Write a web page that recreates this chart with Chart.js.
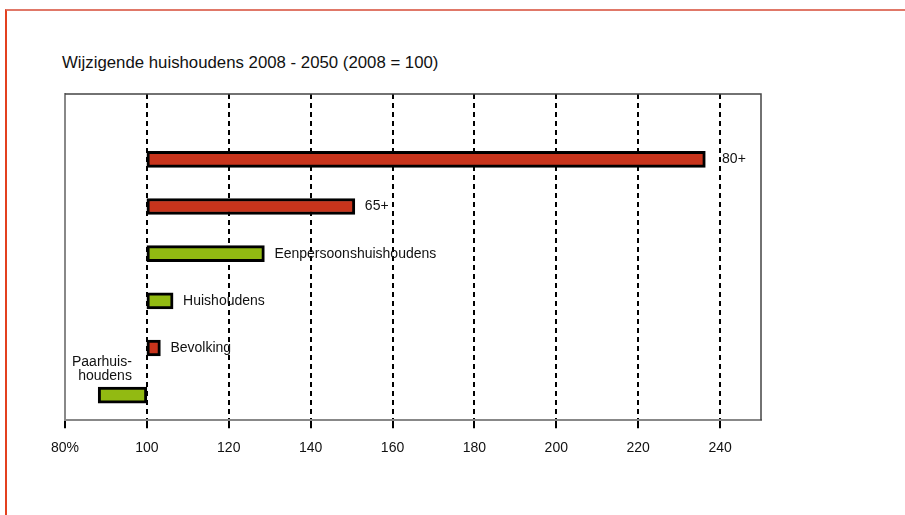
<!DOCTYPE html>
<html>
<head>
<meta charset="utf-8">
<script src="https://cdn.jsdelivr.net/npm/chart.js@4"></script>
<style>
    html, body { margin: 0; padding: 0; background: #fff; }
    #page { position: relative; width: 905px; height: 515px; overflow: hidden; }
    #frame {
        position: absolute; left: 5px; top: 9px; right: 0; bottom: 0;
        border-top: 2px solid #e07868; border-left: 2px solid #e3401f;
    }
    #title {
        position: absolute; left: 62px; top: 53px;
        font: 16.8px "Liberation Sans", Arial, sans-serif; color: #111;
        white-space: nowrap;
    }
    canvas { position: absolute; left: 0; top: 0; }
</style>
</head>
<body>
<div id="page">
    <div id="frame"></div>
    <div id="title">Wijzigende huishoudens 2008 - 2050 (2008 = 100)</div>
    <canvas id="chart" width="905" height="515"></canvas>
</div>
<script>
// top to bottom, as in the picture
const categories = ["80+", "65+", "Eenpersoonshuishoudens", "Huishoudens", "Bevolking", "Paarhuishoudens"];
const labels     = ["80+", "65+", "Eenpersoonshuishoudens", "Huishoudens", "Bevolking", ["Paarhuis-", "houdens"]];
const baseValue  = 100;
const values     = [236.4, 150.8, 128.7, 106.4, 103.3, 88.1];
const barColors  = ["#c8341c", "#c8341c", "#92ba12", "#92ba12", "#c8341c", "#92ba12"];
const xTicks     = [80, 100, 120, 140, 160, 180, 200, 220, 240];

const FONT = '"Liberation Sans", Arial, sans-serif';

const frameLines = {
    id: 'frameLines',
    afterDraw(chart) {
        const {ctx, chartArea: a} = chart;
        ctx.save();
        ctx.strokeStyle = '#444';
        ctx.lineWidth = 1.5;
        ctx.beginPath();
        ctx.moveTo(a.left, a.top);
        ctx.lineTo(a.right, a.top);
        ctx.lineTo(a.right, a.bottom);
        ctx.stroke();
        ctx.restore();
    }
};

const barLabels = {
    id: 'barLabels',
    afterDatasetsDraw(chart) {
        const ctx = chart.ctx;
        const xScale = chart.scales.x;
        const meta = chart.getDatasetMeta(0);
        const basePx = xScale.getPixelForValue(baseValue);
        const gridPx = xTicks.map(v => xScale.getPixelForValue(v));
        ctx.save();
        ctx.font = '14px ' + FONT;
        ctx.fillStyle = '#111';
        meta.data.forEach((bar, i) => {
            const text = labels[i];
            if (values[i] >= baseValue) {
                let x = xScale.getPixelForValue(values[i]) + 10;
                // step over a dashed line that would cut the first letter
                const hit = gridPx.find(g => g > x - 1 && g < x + 8);
                if (hit !== undefined) x = hit + 2;
                ctx.textAlign = 'left';
                ctx.textBaseline = 'middle';
                ctx.fillText(text, x, bar.y);
            } else {
                // label sits above the bar, right aligned near the 100 line
                const lines = [].concat(text);
                const top = bar.y - bar.height / 2;
                ctx.textAlign = 'right';
                ctx.textBaseline = 'middle';
                lines.forEach((line, k) => {
                    const y = top - 11 - (lines.length - 1 - k) * 14.5;
                    ctx.fillText(line, basePx - 15, y);
                });
            }
        });
        ctx.restore();
    }
};

new Chart(document.getElementById('chart').getContext('2d'), {
    type: 'bar',
    data: {
        labels: categories,
        datasets: [{
            data: values.map((v, i) => ({ x: [baseValue, v], y: i })),
            backgroundColor: barColors,
            borderColor: '#000',
            borderWidth: 3,
            borderSkipped: false,
            barThickness: 16,
        }],
    },
    options: {
        indexAxis: 'y',
        responsive: false,
        animation: false,
        devicePixelRatio: 1,
        layout: { padding: { left: 65, right: 144, top: 94, bottom: 46 } },
        plugins: {
            legend: { display: false },
            title: { display: false },
            tooltip: { enabled: false },
        },
        scales: {
            x: {
                type: 'linear',
                min: 80,
                max: 250,
                afterBuildTicks: s => { s.ticks = xTicks.map(v => ({ value: v })); },
                ticks: {
                    padding: 12,
                    color: '#111',
                    font: { family: FONT, size: 14 },
                    callback: v => v === 80 ? '80%' : String(v),
                },
                grid: {
                    color: c => c.tick && c.tick.value === 80 ? 'rgba(0,0,0,0)' : '#000',
                    lineWidth: 2,
                    tickLength: 8,
                    tickColor: '#000',
                    tickWidth: 2,
                },
                border: { color: '#888', width: 2, dash: [5, 4] },
            },
            y: {
                type: 'linear',
                reverse: true,
                offset: false,
                min: -1.385,
                max: 5.531,
                ticks: { display: false },
                grid: { display: false, drawTicks: false, offset: false },
                border: { color: '#888', width: 2 },
            },
        },
    },
    plugins: [frameLines, barLabels],
});
</script>
</body>
</html>
